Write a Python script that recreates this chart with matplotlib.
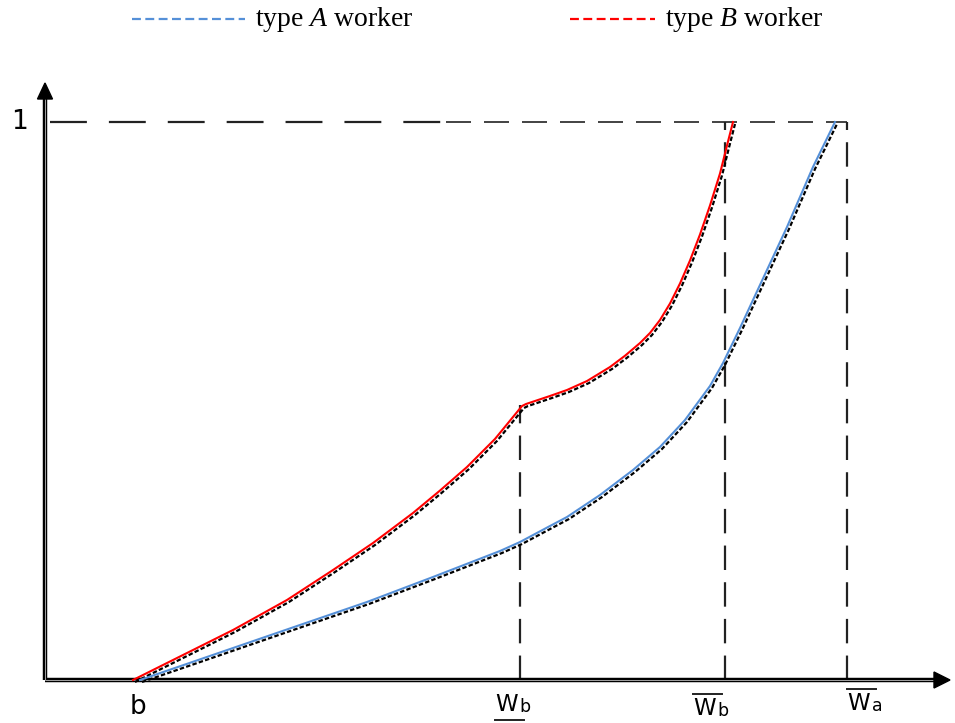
import matplotlib
matplotlib.use("Agg")
import matplotlib.pyplot as plt
from matplotlib.transforms import offset_copy

plt.rcParams['mathtext.fontset'] = 'custom'
plt.rcParams['mathtext.rm'] = 'Liberation Serif'
plt.rcParams['mathtext.it'] = 'Liberation Serif:italic'

# ---- data (wage on x, cumulative share on y) ----
red_x = [0.88, 1.88, 2.42, 2.88, 3.28, 3.68, 3.95, 4.22, 4.50, 4.77, 4.81, 5.05,
         5.22, 5.42, 5.65, 5.80, 5.95, 6.05, 6.15, 6.25, 6.35, 6.45, 6.55, 6.65,
         6.75, 6.82, 6.88]
red_y = [0.0, 0.0896, 0.1434, 0.1971, 0.2455, 0.2993, 0.3395, 0.3817, 0.4320,
         0.4910, 0.4946, 0.5090, 0.5197, 0.5358, 0.5609, 0.5811, 0.6039, 0.6219,
         0.6452, 0.6747, 0.7106, 0.7518, 0.7984, 0.8504, 0.9077, 0.9579, 1.0]
blue_x = [0.95, 1.88, 2.55, 3.22, 3.88, 4.55, 4.75, 5.05, 5.22, 5.55, 5.88, 6.15,
          6.40, 6.65, 6.78, 6.95, 7.08, 7.42, 7.68, 7.90]
blue_y = [0.0, 0.0573, 0.0986, 0.1398, 0.1846, 0.2312, 0.2473, 0.2760, 0.2921,
          0.3315, 0.3763, 0.4176, 0.4659, 0.5269, 0.5681, 0.6308, 0.6810, 0.8118,
          0.9194, 1.0]

b_val = 0.90
wb_low = 4.75
wb_low_y = 0.493
wb_bar = 6.80
wa_bar = 8.02
y_top = 1.0

legend_labels = ['type $A$ worker', 'type $B$ worker']
blue_c = '#5590D8'
red_c = '#FF0000'

# ---- figure ----
fig = plt.figure(figsize=(9.55, 7.23), dpi=100)
ax = fig.add_axes([0, 0, 1, 1])
ax.axis('off')

def px2x(p):
    return (p - 45) / 100.0

def px2y(p):
    return (680 - p) / 558.0

ax.set_xlim(px2x(0), px2x(955))
ax.set_ylim(px2y(723), px2y(0))

# axes (double lines)
x_end = px2x(936)
y_end = px2y(97)
for lw, c in [(3.2, 'black'), (0.6, '#bbbbbb')]:
    ax.plot([0, 0], [0, y_end], color=c, lw=lw, solid_capstyle='butt', zorder=3)
    ax.plot([0, x_end], [0, 0], color=c, lw=lw, solid_capstyle='butt', zorder=3)
# arrow heads
ax.fill([-0.075, 0.075, 0], [px2y(99), px2y(99), px2y(83)], color='black', zorder=4)
ax.fill([px2x(934), px2x(934), px2x(950)], [px2y(672), px2y(688), px2y(680)],
        color='black', zorder=4)

# dashed guide lines
dcol = '#222222'
ax.plot([px2x(50), px2x(446)], [y_top, y_top], color=dcol, lw=1.6,
        dashes=(16.6, 9.9), zorder=2)
ax.plot([px2x(446), wa_bar], [y_top, y_top], color=dcol, lw=1.2,
        dashes=(15, 7.8), zorder=2)
ax.plot([wb_low, wb_low], [0, wb_low_y], color=dcol, lw=1.6, dashes=(11, 5.5), zorder=2)
ax.plot([wb_bar, wb_bar], [0, y_top], color=dcol, lw=1.6, dashes=(11, 5.5), zorder=2)
ax.plot([wa_bar, wa_bar], [0, y_top], color=dcol, lw=1.6, dashes=(11, 5.5), zorder=2)

# black shadow curves
sh = offset_copy(ax.transData, fig=fig, x=2, y=-2, units='dots')
ax.plot(red_x, red_y, color='black', lw=1.6, dashes=(2, 1), transform=sh, zorder=4)
ax.plot(blue_x, blue_y, color='black', lw=1.6, dashes=(2, 1), transform=sh, zorder=4)

# coloured curves
ax.plot(red_x, red_y, color=red_c, lw=1.5, zorder=5, solid_joinstyle='round')
ax.plot(blue_x, blue_y, color=blue_c, lw=1.5, zorder=5, solid_joinstyle='round')

# y label "1"
ax.text(px2x(19), y_top, '1', fontsize=19, family='DejaVu Sans',
        ha='center', va='center')

# x labels
ax.text(b_val + 0.03, px2y(707), 'b', fontsize=19, family='DejaVu Sans',
        ha='center', va='center')

def wlabel(xc, base_px, sub, over):
    left = xc - 0.25
    ax.text(left, px2y(base_px), 'W', fontsize=16.5, family='DejaVu Sans',
            ha='left', va='baseline')
    ax.text(left + 0.245, px2y(base_px + 1), sub, fontsize=12.5, family='DejaVu Sans',
            ha='left', va='baseline')
    if over:
        yl = px2y(base_px - 21)
    else:
        yl = px2y(base_px + 9)
    ax.plot([left, left + 0.29], [yl, yl], color='#222222', lw=1.4)

wlabel(wb_low, 711, 'b', over=False)
wlabel(wb_bar - 0.07, 715, 'b', over=True)
wlabel(wa_bar + 0.25, 710, 'a', over=True)

# legend
ly = px2y(19)
ax.plot([px2x(132), px2x(245)], [ly, ly], color=blue_c, lw=1.6, dashes=(4, 2))
ax.text(px2x(255), ly, legend_labels[0], fontsize=20, family='Liberation Serif',
        ha='left', va='center')
ax.plot([px2x(570), px2x(655)], [ly, ly], color=red_c, lw=1.6, dashes=(4, 2))
ax.text(px2x(665), ly, legend_labels[1], fontsize=20, family='Liberation Serif',
        ha='left', va='center')

fig.savefig('out.png', dpi=100)
